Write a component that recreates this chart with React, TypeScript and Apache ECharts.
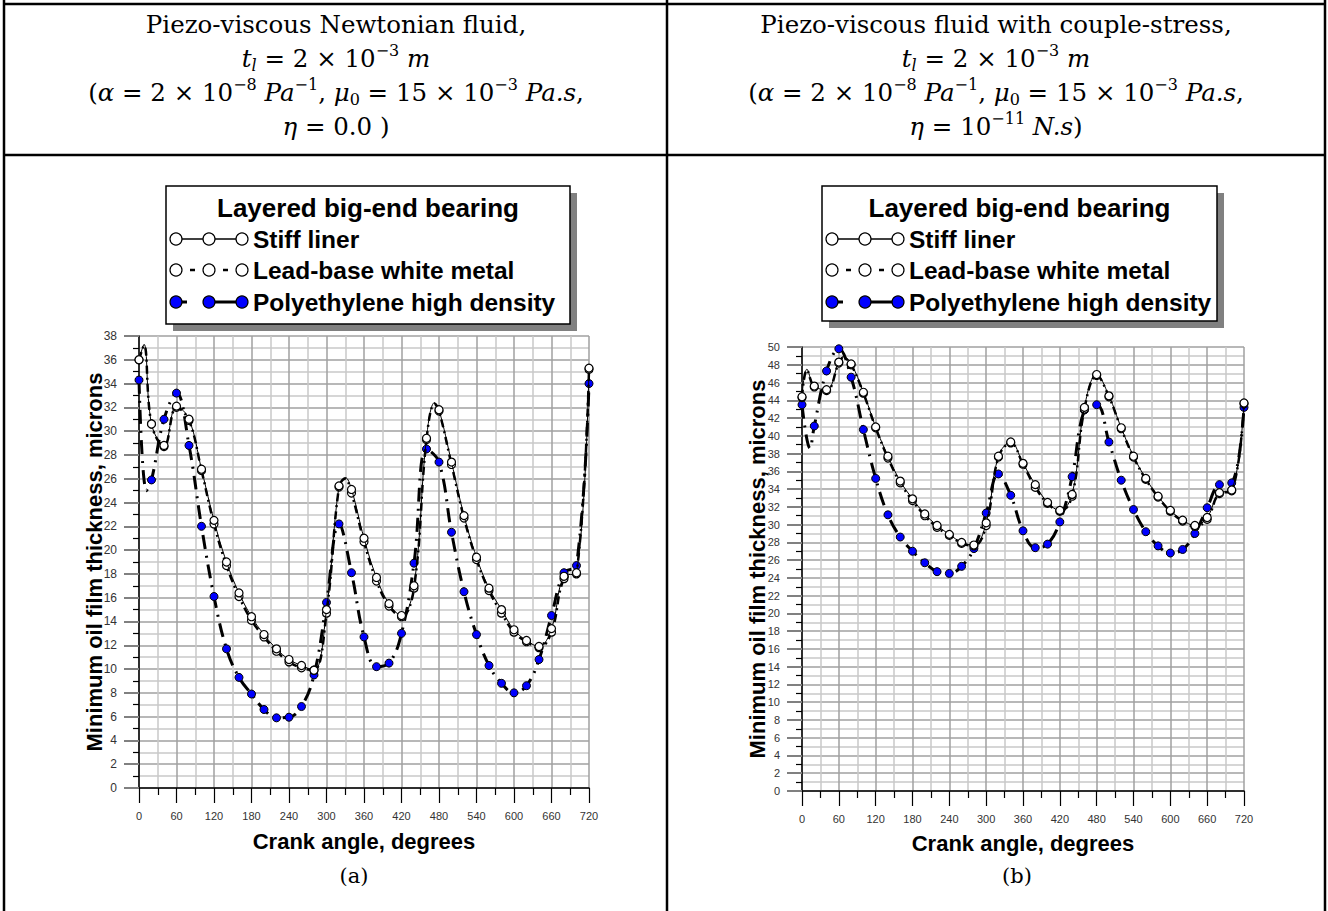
import React, { useEffect, useRef } from "react";
import * as echarts from "echarts";

// ---------------- data ----------------
const angles = [0, 20, 40, 60, 80, 100, 120, 140, 160, 180, 200, 220, 240, 260, 280, 300, 320, 340, 360, 380, 400, 420, 440, 460, 480, 500, 520, 540, 560, 580, 600, 620, 640, 660, 680, 700, 720];

// (a) Piezo-viscous Newtonian fluid
const stiffA = [36.0, 30.6, 28.8, 32.1, 31.0, 26.8, 22.5, 19.0, 16.4, 14.4, 12.9, 11.7, 10.8, 10.3, 9.9, 15.0, 25.4, 25.1, 21.0, 17.7, 15.5, 14.5, 17.0, 29.4, 31.8, 27.4, 22.9, 19.4, 16.8, 15.0, 13.3, 12.4, 11.9, 13.4, 17.8, 18.1, 35.3];
const leadA = [36.0, 30.6, 28.7, 32.0, 30.9, 26.7, 22.2, 18.7, 16.1, 14.1, 12.7, 11.5, 10.6, 10.1, 9.9, 14.7, 25.3, 24.8, 20.7, 17.4, 15.3, 14.4, 16.8, 29.3, 31.7, 27.2, 22.7, 19.2, 16.6, 14.7, 13.1, 12.3, 11.8, 13.1, 17.6, 18.0, 35.2];
const polyA = [34.3, 25.9, 31.0, 33.2, 28.8, 22.0, 16.1, 11.7, 9.3, 7.9, 6.6, 5.9, 5.95, 6.85, 9.5, 15.6, 22.2, 18.1, 12.7, 10.2, 10.5, 13.0, 18.9, 28.5, 27.4, 21.5, 16.5, 12.9, 10.3, 8.8, 8.0, 8.6, 10.8, 14.5, 18.1, 18.7, 34.0];
// curve-only points (peaks/dips of the drawn curves, no marker)
const stiffAPeaks = [[8, 37.3], [330, 26.1], [473, 32.4]];
const leadAPeaks = [[8, 37.2], [330, 26.0], [473, 32.3]];
const polyAPeaks = [[12, 25.0]];

// (b) Piezo-viscous fluid with couple-stress
const stiffB = [44.4, 45.6, 45.2, 48.3, 48.1, 44.9, 41.0, 37.7, 34.9, 32.9, 31.2, 29.9, 28.9, 28.0, 27.7, 30.2, 37.7, 39.3, 36.9, 34.5, 32.5, 31.6, 33.4, 43.2, 46.9, 44.5, 40.9, 37.7, 35.2, 33.2, 31.6, 30.5, 29.9, 30.8, 33.6, 33.9, 43.7];
const leadB = [44.3, 45.5, 45.1, 48.2, 48.0, 44.8, 40.9, 37.5, 34.7, 32.7, 31.0, 29.7, 28.8, 27.9, 27.6, 29.9, 37.6, 39.2, 36.8, 34.2, 32.4, 31.5, 33.2, 43.0, 46.8, 44.4, 40.8, 37.6, 35.1, 33.1, 31.5, 30.4, 29.8, 30.6, 33.5, 33.8, 43.6];
const polyB = [43.5, 41.1, 47.3, 49.8, 46.6, 40.7, 35.2, 31.1, 28.6, 27.0, 25.7, 24.7, 24.5, 25.3, 27.3, 31.3, 35.7, 33.3, 29.3, 27.4, 27.8, 30.3, 35.4, 42.9, 43.5, 39.3, 35.0, 31.7, 29.2, 27.6, 26.8, 27.2, 29.0, 31.9, 34.5, 34.7, 43.2];
const stiffBPeaks = [[8, 47.5], [67, 48.9]];
const leadBPeaks = [[8, 47.4], [67, 48.8]];
const polyBPeaks = [[13, 38.6]];

const seriesNames = ["Stiff liner", "Lead-base white metal", "Polyethylene high density"];
const legendTitle = "Layered big-end bearing";
const xTitle = "Crank angle, degrees";
const yTitle = "Minimum oil film thickness, microns";
const yMaxA = 38;
const yMaxB = 50;

// ---------------- helpers ----------------
const SERIF = '"DejaVu Serif", "Liberation Serif", serif';
const SANS = '"Liberation Sans", Arial, Helvetica, sans-serif';

function buildData(vals: number[], extra: number[][]) {
  const pts: any[] = angles.map((a, i) => ({ value: [a, vals[i]] }));
  extra.forEach(([a, v]) => pts.push({ value: [a, v], symbol: "none" }));
  pts.sort((p, q) => p.value[0] - q.value[0]);
  return pts;
}

const HF = 24.5;
const rich: any = {
  n: { fontFamily: SERIF, fontSize: HF, lineHeight: 31, fill: "#000" },
  i: { fontFamily: SERIF, fontSize: HF, lineHeight: 31, fontStyle: "italic", fill: "#000" },
  sup: { fontFamily: SERIF, fontSize: 16, lineHeight: 17, verticalAlign: "top", fill: "#000" },
  sub: { fontFamily: SERIF, fontSize: 16, lineHeight: 17, verticalAlign: "bottom", fill: "#000" },
  isub: { fontFamily: SERIF, fontSize: 16, lineHeight: 17, verticalAlign: "bottom", fontStyle: "italic", fill: "#000" },
};

function txt(x: number, y: number, text: string, extra: any = {}, rot = 0): any {
  return {
    type: "text",
    x,
    y,
    rotation: rot,
    z: 30,
    style: {
      text,
      fill: "#000",
      textAlign: "center",
      textVerticalAlign: "middle",
      align: "center",
      verticalAlign: "middle",
      ...extra,
    },
  };
}

function headerLines(cx: number, line1: string, line4: string): any[] {
  const ys = [24, 58, 92, 126];
  const l2 = "{i|t}{isub|l}{n| = 2 × 10}{sup|−3}{i| m}";
  const l3 = "{n|(}{i|α}{n| = 2 × 10}{sup|−8}{i| Pa}{sup|−1}{n|, }{i|μ}{sub|0}{n| = 15 × 10}{sup|−3}{i| Pa.s}{n|,}";
  return [line1, l2, l3, line4].map((t, k) =>
    txt(cx, ys[k], t, { rich, fontFamily: SERIF, fontSize: HF })
  );
}

function legendGraphics(left: number, top: number, right: number, bottom: number): any[] {
  const els: any[] = [];
  const w = right - left;
  const h = bottom - top;
  els.push({ type: "rect", z: 20, shape: { x: left + 7, y: top + 7, width: w, height: h }, style: { fill: "#808080" } });
  els.push({ type: "rect", z: 21, shape: { x: left, y: top, width: w, height: h }, style: { fill: "#fff", stroke: "#000", lineWidth: 1.5 } });
  const LF = { fontFamily: SANS, fontSize: 24.5, fontWeight: "bold" };
  els.push(txt((left + right) / 2, top + 22, legendTitle, { fontFamily: SANS, fontSize: 26, fontWeight: "bold" }));
  const rows = [top + 53, top + 84, top + 116];
  const c = [left + 10, left + 43, left + 76];
  const white = { fill: "#fff", stroke: "#000", lineWidth: 1.2 };
  const blue = { fill: "#0000ff", stroke: "#000", lineWidth: 1.2 };
  // row 1: solid line
  els.push({ type: "line", z: 22, shape: { x1: c[0], y1: rows[0], x2: c[2], y2: rows[0] }, style: { stroke: "#000", lineWidth: 1.5 } });
  // row 2: short dashes
  els.push({ type: "line", z: 22, shape: { x1: c[0] + 14, y1: rows[1], x2: c[0] + 19, y2: rows[1] }, style: { stroke: "#000", lineWidth: 2.5 } });
  els.push({ type: "line", z: 22, shape: { x1: c[1] + 14, y1: rows[1], x2: c[1] + 19, y2: rows[1] }, style: { stroke: "#000", lineWidth: 2.5 } });
  // row 3: long dash pattern
  els.push({ type: "line", z: 22, shape: { x1: c[0], y1: rows[2], x2: c[0] + 11, y2: rows[2] }, style: { stroke: "#000", lineWidth: 3 } });
  els.push({ type: "line", z: 22, shape: { x1: c[1], y1: rows[2], x2: c[2], y2: rows[2] }, style: { stroke: "#000", lineWidth: 3 } });
  rows.forEach((ry, k) => {
    c.forEach((cx) => {
      els.push({ type: "circle", z: 23, shape: { cx, cy: ry, r: 6 }, style: k === 2 ? blue : white });
    });
    els.push({
      type: "text",
      z: 23,
      x: left + 87,
      y: ry,
      style: { text: seriesNames[k], fill: "#000", ...LF, textAlign: "left", textVerticalAlign: "middle", align: "left", verticalAlign: "middle" },
    });
  });
  return els;
}

function xAxisCfg(gridIndex: number): any {
  return {
    type: "value",
    gridIndex,
    min: 0,
    max: 720,
    interval: 60,
    axisLine: { show: true, onZero: false, lineStyle: { color: "#000", width: 1.5 } },
    axisTick: { show: true, length: 15, lineStyle: { color: "#000", width: 1.2 } },
    minorTick: { show: true, splitNumber: 2, length: 7, lineStyle: { color: "#000", width: 1.2 } },
    axisLabel: { margin: 22, fontSize: 11, color: "#333", fontFamily: SANS },
    splitLine: { show: true, lineStyle: { color: "#a0a0a0", width: 1.5 } },
    minorSplitLine: { show: true, lineStyle: { color: "#c8c8c8", width: 1.5 } },
  };
}

function yAxisCfg(gridIndex: number, max: number, fs: number): any {
  return {
    type: "value",
    gridIndex,
    min: 0,
    max,
    interval: 2,
    axisLine: { show: true, onZero: false, lineStyle: { color: "#000", width: 1.5 } },
    axisTick: { show: true, length: 15, lineStyle: { color: "#808080", width: 2 } },
    minorTick: { show: true, splitNumber: 2, length: 6, lineStyle: { color: "#000", width: 1.2 } },
    axisLabel: { margin: 22, fontSize: fs, color: "#333", fontFamily: SANS },
    splitLine: { show: true, lineStyle: { color: "#a0a0a0", width: 1.5 } },
    minorSplitLine: { show: true, lineStyle: { color: "#c8c8c8", width: 1.5 } },
  };
}

function seriesSet(idx: number, stiff: any[], lead: any[], poly: any[]): any[] {
  const base = {
    type: "line",
    xAxisIndex: idx,
    yAxisIndex: idx,
    smooth: 0.4,
    symbol: "circle",
    symbolSize: 8,
    showAllSymbol: true,
    emphasis: { disabled: true },
  };
  return [
    {
      ...base,
      name: seriesNames[2],
      data: poly,
      z: 3,
      lineStyle: { color: "#000", width: 3, type: [14, 7, 2, 7] },
      itemStyle: { color: "#0000ff", borderColor: "#000", borderWidth: 1 },
    },
    {
      ...base,
      name: seriesNames[1],
      data: lead,
      z: 4,
      lineStyle: { color: "#000", width: 2.5, type: [8, 4, 2, 4] },
      itemStyle: { color: "#fff", borderColor: "#000", borderWidth: 1.2 },
    },
    {
      ...base,
      name: seriesNames[0],
      data: stiff,
      z: 5,
      lineStyle: { color: "#000", width: 1 },
      itemStyle: { color: "#fff", borderColor: "#000", borderWidth: 1.2 },
    },
  ];
}

export default function App() {
  const ref = useRef<HTMLDivElement>(null);

  useEffect(() => {
    if (!ref.current) return;
    const chart = echarts.init(ref.current, null, { renderer: "svg" });

    const AX = { fontFamily: SANS, fontSize: 22, fontWeight: "bold" };
    const graphics: any[] = [
      // table borders
      { type: "line", z: 40, shape: { x1: 4, y1: 0, x2: 4, y2: 911 }, style: { stroke: "#000", lineWidth: 2.5 } },
      { type: "line", z: 40, shape: { x1: 667, y1: 0, x2: 667, y2: 911 }, style: { stroke: "#000", lineWidth: 2.5 } },
      { type: "line", z: 40, shape: { x1: 1325, y1: 0, x2: 1325, y2: 911 }, style: { stroke: "#000", lineWidth: 2.5 } },
      { type: "line", z: 40, shape: { x1: 3, y1: 4, x2: 1326, y2: 4 }, style: { stroke: "#000", lineWidth: 2.5 } },
      { type: "line", z: 40, shape: { x1: 3, y1: 155, x2: 1326, y2: 155 }, style: { stroke: "#000", lineWidth: 2.5 } },
      ...headerLines(336, "{n|Piezo-viscous Newtonian fluid,}", "{i|η}{n| = 0.0 )}"),
      ...headerLines(996, "{n|Piezo-viscous fluid with couple-stress,}", "{i|η}{n| = 10}{sup|−11}{i| N.s}{n|)}"),
      ...legendGraphics(166, 186, 570, 324),
      ...legendGraphics(822, 186, 1217, 321),
      txt(364, 841, xTitle, AX),
      txt(1023, 843, xTitle, AX),
      txt(94, 562, yTitle, AX, Math.PI / 2),
      txt(757, 569, yTitle, AX, Math.PI / 2),
      txt(354, 876, "(a)", { fontFamily: SERIF, fontSize: 21 }),
      txt(1017, 876, "(b)", { fontFamily: SERIF, fontSize: 21 }),
    ];

    chart.setOption({
      animation: false,
      backgroundColor: "#fff",
      grid: [
        { left: 139, top: 336, width: 450, height: 452 },
        { left: 802, top: 347, width: 442, height: 444 },
      ],
      xAxis: [xAxisCfg(0), xAxisCfg(1)],
      yAxis: [yAxisCfg(0, yMaxA, 12), yAxisCfg(1, yMaxB, 11)],
      series: [
        ...seriesSet(0, buildData(stiffA, stiffAPeaks), buildData(leadA, leadAPeaks), buildData(polyA, polyAPeaks)),
        ...seriesSet(1, buildData(stiffB, stiffBPeaks), buildData(leadB, leadBPeaks), buildData(polyB, polyBPeaks)),
      ],
      graphic: graphics,
    });

    return () => chart.dispose();
  }, []);

  return (
    <div
      ref={ref}
      style={{ position: "absolute", left: 0, top: 0, width: 1328, height: 911, background: "#fff" }}
    />
  );
}
